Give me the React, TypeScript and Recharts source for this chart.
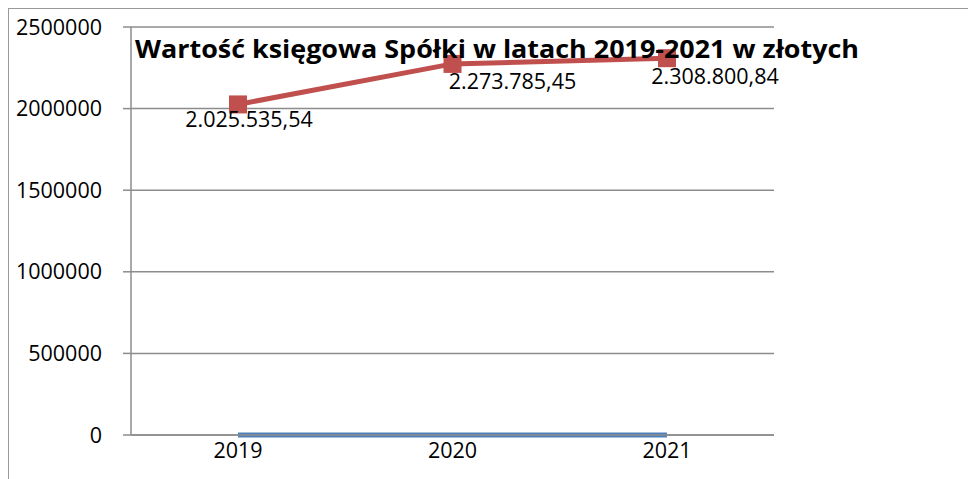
import { LineChart, Line, XAxis, YAxis, CartesianGrid } from "recharts"

const years = ["2019", "2020", "2021"]
const bookValue = [2025535.54, 2273785.45, 2308800.84]
const baseSeries = [0, 0, 0]
const yTicks = [0, 500000, 1000000, 1500000, 2000000, 2500000]
const title = "Wartość księgowa Spółki w latach 2019-2021 w złotych"

const data = years.map((year, i) => ({ year, value: bookValue[i], base: baseSeries[i] }))

const FONT = "'Open Sans', 'DejaVu Sans', sans-serif"
const GRID = "#8c8c8c"

// label nudges as placed in the original
const labelDx = [11, 60, 48]
const labelDy = [14, 17, 17]

const plFormat = (v: number) => {
  const [int, dec] = v.toFixed(2).split(".")
  return int.replace(/\B(?=(\d{3})+(?!\d))/g, ".") + "," + dec
}

const ValueLabel = (props: any) => {
  const { x, y, index, value } = props
  return (
    <text
      x={x + labelDx[index]}
      y={y + labelDy[index]}
      textAnchor="middle"
      dominantBaseline="central"
      fontFamily={FONT}
      fontSize={21.5}
      fill="#000"
    >
      {plFormat(value)}
    </text>
  )
}

const SquareDot = (props: any) => {
  const { cx, cy } = props
  return <rect x={cx - 9} y={cy - 9} width={18} height={18} fill="#c0504d" />
}

export default function App() {
  return (
    <div
      style={{
        position: "relative",
        width: 967,
        height: 470,
        borderTop: "1px solid #999",
        borderLeft: "1px solid #999",
        background: "#fff",
      }}
    >
      <LineChart width={967} height={470} data={data} margin={{ top: 18, right: 202, left: 0, bottom: 14 }}>
        <CartesianGrid horizontal vertical={false} stroke={GRID} strokeWidth={1.5} />
        <XAxis
          dataKey="year"
          stroke={GRID}
          strokeWidth={1.5}
          tickLine={false}
          padding={{ left: 107, right: 107 }}
          tick={{ fill: "#000", fontFamily: FONT, fontSize: 21.5 }}
          height={30}
        />
        <YAxis
          domain={[0, 2500000]}
          ticks={yTicks}
          width={122}
          stroke={GRID}
          strokeWidth={1.5}
          tickSize={8}
          tickMargin={21}
          tick={{ fill: "#000", fontFamily: FONT, fontSize: 21.5 }}
        />
        <Line
          dataKey="base"
          stroke="#4f81bd"
          strokeWidth={5}
          dot={false}
          isAnimationActive={false}
        />
        <Line
          dataKey="value"
          stroke="#c0504d"
          strokeWidth={5}
          dot={<SquareDot />}
          label={<ValueLabel />}
          isAnimationActive={false}
        />
      </LineChart>
      <svg width={967} height={470} style={{ position: "absolute", left: 0, top: 0, pointerEvents: "none" }}>
        <text
          x={126}
          y={49}
          fontFamily={FONT}
          fontWeight="bold"
          fontSize={25}
          textLength={724}
          lengthAdjust="spacingAndGlyphs"
          fill="#000"
        >
          {title}
        </text>
      </svg>
    </div>
  )
}
